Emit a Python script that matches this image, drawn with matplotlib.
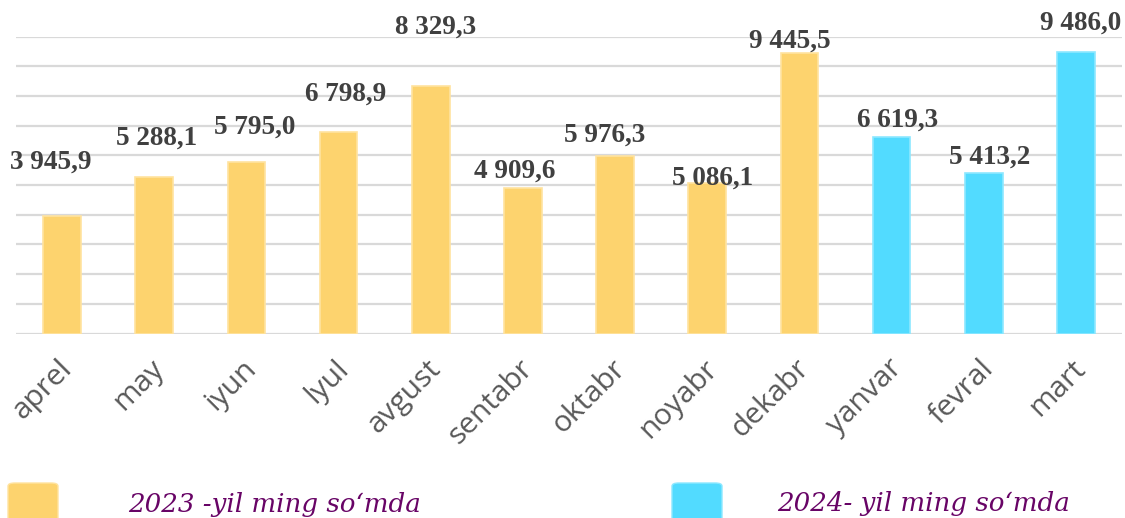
import matplotlib
matplotlib.use("Agg")
import matplotlib.pyplot as plt
from matplotlib.patches import FancyBboxPatch

# monthly values, ming so'm
months = ['aprel', 'may', 'iyun', 'lyul', 'avgust', 'sentabr', 'oktabr',
          'noyabr', 'dekabr', 'yanvar', 'fevral', 'mart']
values = [3945.9, 5288.1, 5795.0, 6798.9, 8329.3, 4909.6, 5976.3,
          5086.1, 9445.5, 6619.3, 5413.2, 9486.0]
years = [2023] * 9 + [2024] * 3
labels = ['3 945,9', '5 288,1', '5 795,0', '6 798,9', '8 329,3', '4 909,6',
          '5 976,3', '5 086,1', '9 445,5', '6 619,3', '5 413,2', '9 486,0']

# label nudges (pixels: dx, dy above bar top) as placed in the original
label_dx = [-11, 2, 8, 7, 5, -8, -10, 5, -10, 6, 6, 5]
label_dy = [54, 38, 34, 38, 59, 17, 21, 4, 12, 17, 16, 29]

col = {2023: '#FDD36E', 2024: '#52DBFF'}
edge = {2023: '#FFE3A0', 2024: '#8DE8FF'}

W, H = 1125, 518
fig = plt.figure(figsize=(W / 100, H / 100), dpi=100)
ax = fig.add_axes([16 / W, (H - 333.5) / H, (1122 - 16) / W, (333.5 - 36.7) / H])

x = list(range(len(months)))
ax.bar(x, values, width=0.41, color=[col[y] for y in years],
       edgecolor=[edge[y] for y in years], linewidth=1.2, zorder=3)

ax.set_xlim(-0.5, len(months) - 0.5)
ax.set_ylim(0, 10000)
ax.set_yticks(range(0, 10001, 1000))
ax.yaxis.grid(True, color='#D9D9D9', linewidth=1.6, zorder=0)
ax.tick_params(axis='y', left=False, labelleft=False)
ax.tick_params(axis='x', length=0, pad=22)
for s in ax.spines.values():
    s.set_visible(False)

ax.set_xticks(x)
ax.set_xticklabels(months, rotation=45, ha='right', va='center',
                   rotation_mode='anchor', fontsize=21.5, color='#595959',
                   family='Open Sans')
for t in ax.get_xticklabels():
    t.set_x(t.get_position()[0])
import matplotlib.transforms as mtrans
off = mtrans.ScaledTranslation(6 / 100, 0, fig.dpi_scale_trans)
for t in ax.get_xticklabels():
    t.set_transform(t.get_transform() + off)

for i, v in enumerate(values):
    ax.annotate(labels[i], (i, v), xytext=(label_dx[i] * 0.72, label_dy[i] * 0.72),
                textcoords='offset points', ha='center', va='center',
                fontsize=19.5, fontweight='bold', color='#404040',
                family='Liberation Serif', zorder=5)

# legend at the bottom
for x0, y in [(8, 2023), (672, 2024)]:
    fig.patches.append(FancyBboxPatch((x0 / W, (H - 533) / H), 50 / W, 50 / H,
                                      boxstyle='round,pad=0,rounding_size=0.006',
                                      transform=fig.transFigure, facecolor=col[y],
                                      edgecolor=edge[y], linewidth=1))
fig.text(128 / W, (H - 512) / H, '2023 -yil ming so\u2018mda', fontsize=18.8,
         style='italic', color='#680466', family='DejaVu Serif', va='baseline')
fig.text(777 / W, (H - 511) / H, '2024- yil ming so\u2018mda', fontsize=18.8,
         style='italic', color='#680466', family='DejaVu Serif', va='baseline')

fig.savefig('out.png', dpi=100)
